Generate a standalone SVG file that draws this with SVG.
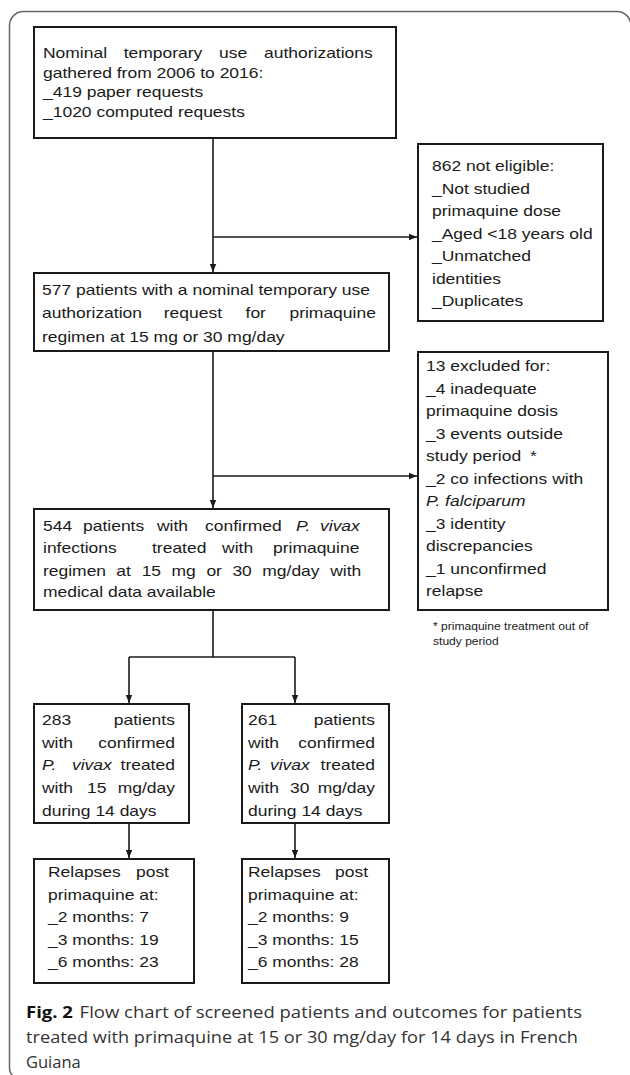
<svg xmlns="http://www.w3.org/2000/svg" width="630" height="1075" viewBox="0 0 630 1075">
<style>
.box{fill:#fff;stroke:#1a1a1a;stroke-width:2}
.t{font-family:"Liberation Sans",Arial,sans-serif;font-size:15.2px;fill:#1a1a1a}
.fn{font-family:"Liberation Sans",Arial,sans-serif;font-size:10.5px;fill:#1a1a1a}
.i{font-style:italic}
.con{fill:none;stroke:#1a1a1a;stroke-width:1.6}
.frame{fill:none;stroke:#666;stroke-width:1.5}
.cap{font-family:"Open Sans","Liberation Sans",sans-serif;font-size:16.5px;fill:#333}
</style>
<defs>
<marker id="ah" viewBox="0 0 10 10" refX="10" refY="5" markerWidth="8" markerHeight="8" markerUnits="userSpaceOnUse" orient="auto">
<path d="M0,1 L10,5 L0,9 z" fill="#1a1a1a"/>
</marker>
</defs>
<rect width="630" height="1075" fill="#fff"/>
<path class="frame" d="M20 1079 A11 11 0 0 1 9.5 1067 V25.5 A14 14 0 0 1 23.5 11.5 H617 A14 14 0 0 1 631 25.5"/>

<g id="connectors">
<path class="con" d="M213 138 V272" marker-end="url(#ah)"/>
<path class="con" d="M213 237 H417" marker-end="url(#ah)"/>
<path class="con" d="M213 351 V508" marker-end="url(#ah)"/>
<path class="con" d="M213 476 H417" marker-end="url(#ah)"/>
<path class="con" d="M213 610 V657 M129 657 H295"/>
<path class="con" d="M129 657 V703" marker-end="url(#ah)"/>
<path class="con" d="M295 657 V703" marker-end="url(#ah)"/>
<path class="con" d="M129 823 V858" marker-end="url(#ah)"/>
<path class="con" d="M295 823 V858" marker-end="url(#ah)"/>
</g>

<g id="n1">
<rect class="box" x="34" y="27" width="362" height="111"/>
<text class="t" transform="translate(43 58) scale(1.15 1)"><tspan x="0">Nominal</tspan><tspan x="70.2">temporary</tspan><tspan x="153.1">use</tspan><tspan x="192.2">authorizations</tspan></text>
<text class="t" transform="translate(43 77.5) scale(1.15 1)">gathered from 2006 to 2016:</text>
<text class="t" transform="translate(43 97) scale(1.15 1)">_419 paper requests</text>
<text class="t" transform="translate(43 116.5) scale(1.15 1)">_1020 computed requests</text>
</g>

<g id="n862">
<rect class="box" x="418" y="144" width="185" height="177"/>
<text class="t" transform="translate(432 171) scale(1.15 1)">862 not eligible:</text>
<text class="t" transform="translate(432 193.5) scale(1.15 1)">_Not studied</text>
<text class="t" transform="translate(432 216) scale(1.15 1)">primaquine dose</text>
<text class="t" transform="translate(432 238.5) scale(1.15 1)">_Aged &lt;18 years old</text>
<text class="t" transform="translate(432 261) scale(1.15 1)">_Unmatched</text>
<text class="t" transform="translate(432 283.5) scale(1.15 1)">identities</text>
<text class="t" transform="translate(432 306) scale(1.15 1)">_Duplicates</text>
</g>

<g id="n577">
<rect class="box" x="34" y="273" width="355" height="78"/>
<text class="t" transform="translate(42 295) scale(1.15 1)">577 patients with a nominal temporary use</text>
<text class="t" transform="translate(42 318) scale(1.15 1)"><tspan x="0">authorization</tspan><tspan x="105.9">request</tspan><tspan x="177">for</tspan><tspan x="215.2">primaquine</tspan></text>
<text class="t" transform="translate(42 342) scale(1.15 1)">regimen at 15 mg or 30 mg/day</text>
</g>

<g id="n13">
<rect class="box" x="418" y="352" width="190" height="258"/>
<text class="t" transform="translate(426 371) scale(1.15 1)">13 excluded for:</text>
<text class="t" transform="translate(426 393.5) scale(1.15 1)">_4 inadequate</text>
<text class="t" transform="translate(426 416) scale(1.15 1)">primaquine dosis</text>
<text class="t" transform="translate(426 438.5) scale(1.15 1)">_3 events outside</text>
<text class="t" transform="translate(426 461) scale(1.15 1)"><tspan x="0">study period</tspan><tspan x="90.4">*</tspan></text>
<text class="t" transform="translate(426 483.5) scale(1.15 1)">_2 co infections with</text>
<text class="t i" transform="translate(426 506) scale(1.15 1)">P. falciparum</text>
<text class="t" transform="translate(426 528.5) scale(1.15 1)">_3 identity</text>
<text class="t" transform="translate(426 551) scale(1.15 1)">discrepancies</text>
<text class="t" transform="translate(426 573.5) scale(1.15 1)">_1 unconfirmed</text>
<text class="t" transform="translate(426 596) scale(1.15 1)">relapse</text>
</g>

<g id="footnote">
<text class="fn" transform="translate(433 630) scale(1.15 1)">* primaquine treatment out of</text>
<text class="fn" transform="translate(433 645) scale(1.15 1)">study period</text>
</g>

<g id="n544">
<rect class="box" x="34" y="509" width="355" height="101"/>
<text class="t" transform="translate(43 531) scale(1.15 1)"><tspan x="0">544</tspan><tspan x="34.8">patients</tspan><tspan x="99.1">with</tspan><tspan x="140.9">confirmed</tspan><tspan x="220" class="i">P.</tspan><tspan x="240.9" class="i">vivax</tspan></text>
<text class="t" transform="translate(43 553) scale(1.15 1)"><tspan x="0">infections</tspan><tspan x="94.8">treated</tspan><tspan x="155.7">with</tspan><tspan x="200">primaquine</tspan></text>
<text class="t" transform="translate(43 576) scale(1.15 1)"><tspan x="0">regimen</tspan><tspan x="63.8">at</tspan><tspan x="85.8">15</tspan><tspan x="111.8">mg</tspan><tspan x="142.1">or</tspan><tspan x="164.7">30</tspan><tspan x="190.7">mg/day</tspan><tspan x="249.7">with</tspan></text>
<text class="t" transform="translate(43 597) scale(1.15 1)">medical data available</text>
</g>

<g id="n283">
<rect class="box" x="34" y="704" width="155" height="119"/>
<text class="t" transform="translate(42 725) scale(1.15 1)"><tspan x="0">283</tspan><tspan x="62.4">patients</tspan></text>
<text class="t" transform="translate(42 747.7) scale(1.15 1)"><tspan x="0">with</tspan><tspan x="48.9">confirmed</tspan></text>
<text class="t" transform="translate(42 770.4) scale(1.15 1)"><tspan x="0" class="i">P.</tspan><tspan x="26.1" class="i">vivax</tspan><tspan x="68.3">treated</tspan></text>
<text class="t" transform="translate(42 793.1) scale(1.15 1)"><tspan x="0">with</tspan><tspan x="39.1">15</tspan><tspan x="65.8">mg/day</tspan></text>
<text class="t" transform="translate(42 815.8) scale(1.15 1)">during 14 days</text>
</g>

<g id="n261">
<rect class="box" x="242" y="704" width="147" height="119"/>
<text class="t" transform="translate(248 725) scale(1.15 1)"><tspan x="0">261</tspan><tspan x="57.2">patients</tspan></text>
<text class="t" transform="translate(248 747.7) scale(1.15 1)"><tspan x="0">with</tspan><tspan x="43.7">confirmed</tspan></text>
<text class="t" transform="translate(248 770.4) scale(1.15 1)"><tspan x="0" class="i">P.</tspan><tspan x="19.1" class="i">vivax</tspan><tspan x="63.1">treated</tspan></text>
<text class="t" transform="translate(248 793.1) scale(1.15 1)"><tspan x="0">with</tspan><tspan x="36.5">30</tspan><tspan x="60.6">mg/day</tspan></text>
<text class="t" transform="translate(248 815.8) scale(1.15 1)">during 14 days</text>
</g>

<g id="relapse15">
<rect class="box" x="34" y="859" width="160" height="124"/>
<text class="t" transform="translate(48 877) scale(1.15 1)"><tspan x="0">Relapses</tspan><tspan x="76.5">post</tspan></text>
<text class="t" transform="translate(48 899.6) scale(1.15 1)">primaquine at:</text>
<text class="t" transform="translate(48 922.2) scale(1.15 1)">_2 months: 7</text>
<text class="t" transform="translate(48 944.8) scale(1.15 1)">_3 months: 19</text>
<text class="t" transform="translate(48 967.4) scale(1.15 1)">_6 months: 23</text>
</g>

<g id="relapse30">
<rect class="box" x="242" y="859" width="147" height="124"/>
<text class="t" transform="translate(248 877) scale(1.15 1)"><tspan x="0">Relapses</tspan><tspan x="75.7">post</tspan></text>
<text class="t" transform="translate(248 899.6) scale(1.15 1)">primaquine at:</text>
<text class="t" transform="translate(248 922.2) scale(1.15 1)">_2 months: 9</text>
<text class="t" transform="translate(248 944.8) scale(1.15 1)">_3 months: 15</text>
<text class="t" transform="translate(248 967.4) scale(1.15 1)">_6 months: 28</text>
</g>

<g id="caption">
<text class="cap" x="26" y="1018" textLength="556" lengthAdjust="spacingAndGlyphs"><tspan font-weight="bold" fill="#111">Fig. 2</tspan><tspan dx="6">Flow chart of screened patients and outcomes for patients</tspan></text>
<text class="cap" x="26" y="1043" textLength="552" lengthAdjust="spacingAndGlyphs">treated with primaquine at 15 or 30 mg/day for 14 days in French</text>
<text class="cap" x="26" y="1068">Guiana</text>
</g>
</svg>
